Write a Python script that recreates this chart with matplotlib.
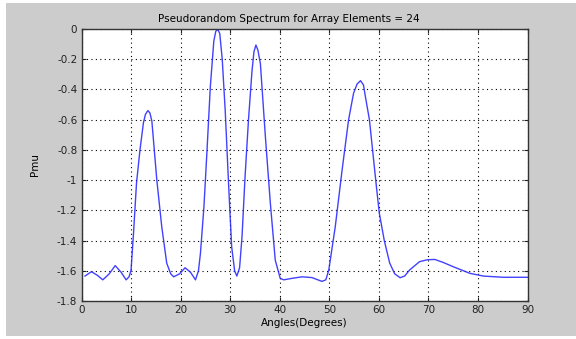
import numpy as np
import matplotlib
matplotlib.use('Agg')
import matplotlib.pyplot as plt
from matplotlib.patches import Rectangle

# 点（角度，Pmu）
angles = [0.7, 2.0, 3.2, 4.3, 5.6, 6.8, 8.0, 9.0, 9.6, 10.0, 10.5, 11.1, 11.8, 12.5, 12.9, 13.4,
          13.8, 14.2, 15.2, 16.2, 17.2, 18.0, 18.6, 19.8, 20.9, 22.0, 23.0, 23.6, 24.0, 24.7,
          25.3, 26.0, 26.7, 27.1, 27.5, 27.9, 28.4, 29.0, 29.7, 30.3, 30.9, 31.35, 31.9, 32.4,
          33.0, 33.7, 34.4, 34.8, 35.2, 35.6, 36.1, 37.1, 38.1, 39.1, 40.1, 40.8, 42.5, 44.5,
          46.5, 48.5, 49.3, 49.9, 51.2, 52.6, 53.9, 54.9, 55.6, 56.3, 56.9, 57.3, 58.1, 58.8,
          59.5, 60.1, 61.1, 62.2, 63.2, 64.3, 65.2, 66.2, 68.2, 69.8, 71.3, 73.0, 75.0, 78.4,
          81.1, 85.1, 90.0]
pmu = [-1.635, -1.606, -1.63, -1.66, -1.62, -1.566, -1.61, -1.66, -1.64, -1.595, -1.35, -1.02,
       -0.80, -0.62, -0.565, -0.54, -0.555, -0.61, -1.0, -1.31, -1.55, -1.62, -1.64, -1.62,
       -1.58, -1.61, -1.66, -1.60, -1.485, -1.18, -0.82, -0.38, -0.08, -0.015, -0.002, -0.03,
       -0.2, -0.54, -1.04, -1.44, -1.6, -1.635, -1.58, -1.37, -0.98, -0.6, -0.28, -0.15,
       -0.106, -0.14, -0.23, -0.71, -1.15, -1.53, -1.65, -1.66, -1.65, -1.64, -1.645, -1.67,
       -1.66, -1.595, -1.31, -0.93, -0.6, -0.425, -0.365, -0.342, -0.37, -0.45, -0.6, -0.82,
       -1.04, -1.22, -1.40, -1.55, -1.62, -1.646, -1.635, -1.595, -1.54, -1.527, -1.525,
       -1.545, -1.573, -1.617, -1.635, -1.643, -1.643]

x_ticks = [0, 10, 20, 30, 40, 50, 60, 70, 80, 90]
y_ticks = [0, -0.2, -0.4, -0.6, -0.8, -1, -1.2, -1.4, -1.6, -1.8]
y_tick_labels = ['0', '-0.2', '-0.4', '-0.6', '-0.8', '-1', '-1.2', '-1.4', '-1.6', '-1.8']

plt.rcParams['font.family'] = ['DejaVu Sans']
fs = 7.5

fig = plt.figure(figsize=(5.76, 3.39), dpi=100, facecolor='white')
# 灰色背景区域（左、上、下留一点浅色边），放在坐标轴下面
bg = Rectangle((6 / 576, 3 / 339), 1 - 6 / 576, 333 / 339,
               transform=fig.transFigure, facecolor='#cccccc',
               edgecolor='none', zorder=-10)
fig.patches.append(bg)

ax = fig.add_axes([81.5 / 576, 1 - 301 / 339, 446 / 576, 272 / 339])
ax.set_facecolor('white')

ax.plot(angles, pmu, color='#2020ff', linewidth=1.0, alpha=0.85)

ax.set_xlim(0, 90)
ax.set_ylim(-1.8, 0)
ax.set_xticks(x_ticks)
ax.set_yticks(y_ticks)
ax.set_yticklabels(y_tick_labels)
ax.tick_params(direction='in', length=3, labelsize=fs, colors='#222222', pad=3,
               top=True, right=True)
ax.grid(True, color='black', linestyle=(0, (1, 3)), linewidth=0.8)
for sp in ax.spines.values():
    sp.set_color('#333333')
    sp.set_linewidth(1.0)

# 原图标题居中于整张图而不是坐标轴
ax.set_title('Pseudorandom Spectrum for Array Elements = 24', fontsize=fs, pad=5, x=0.464)
ax.set_xlabel('Angles(Degrees)', fontsize=fs, labelpad=2)
ax.set_ylabel('Pmu', fontsize=fs, labelpad=12)

fig.savefig('out.png', dpi=100, facecolor=fig.get_facecolor())
